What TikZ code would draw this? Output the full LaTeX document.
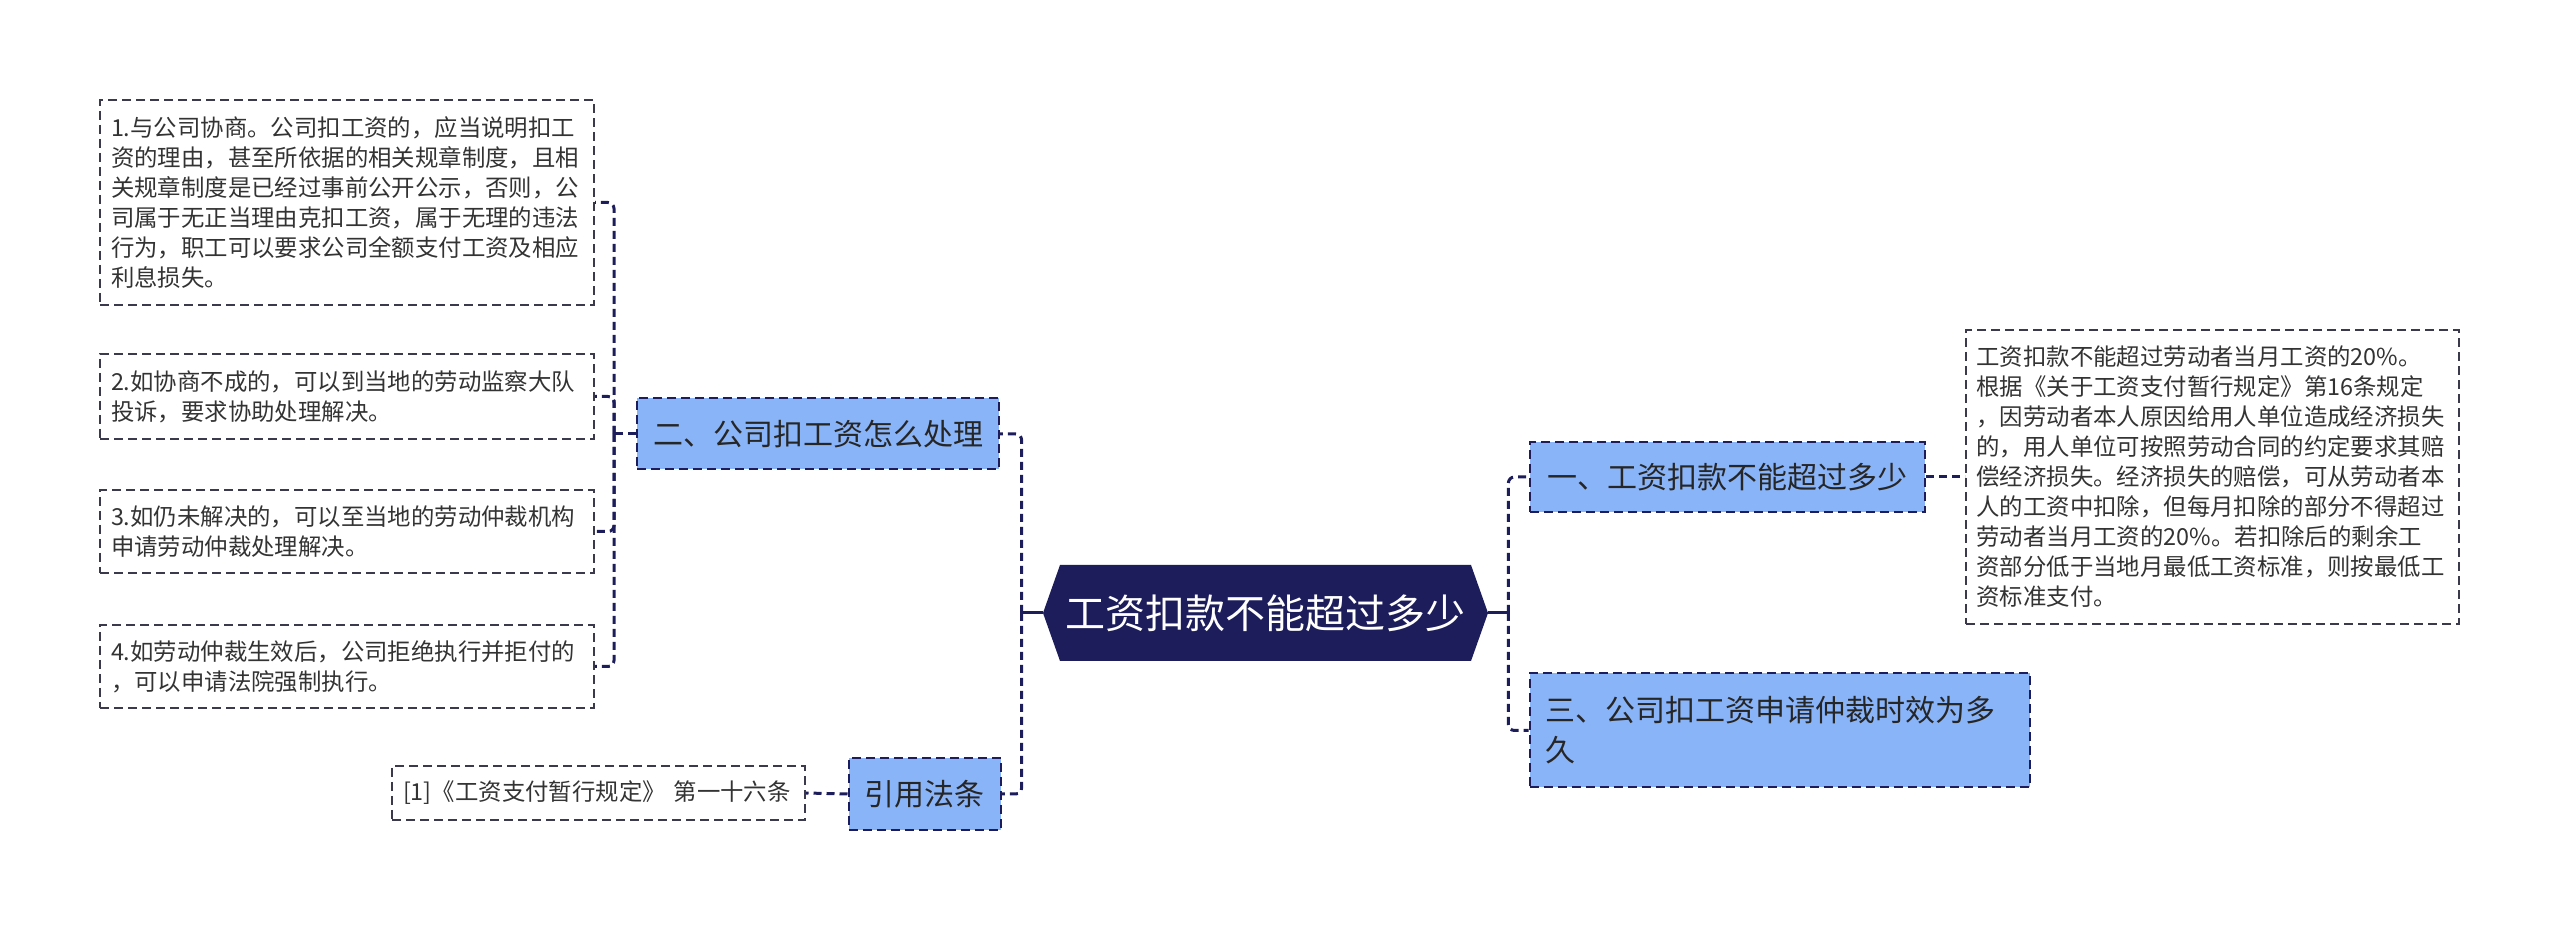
\documentclass[tikz,border=0pt]{standalone}
\usepackage{fontspec}
\setmainfont{Noto Sans CJK SC}
\definecolor{navy}{HTML}{1D1D5C}
\definecolor{branchblue}{HTML}{8AB4F8}
\definecolor{boxline}{HTML}{3A3A4C}
\definecolor{txt}{HTML}{333333}
\begin{document}
\begin{tikzpicture}[x=0.5pt,y=-0.5pt,
  leaf/.style={draw=boxline, line width=1pt, dash pattern=on 4.5pt off 2.5pt, text=txt,
    font=\fontsize{11.7pt}{15pt}\selectfont, align=left, inner ysep=0pt},
  branch/.style={fill=branchblue, draw=navy, line width=1pt, dash pattern=on 4.5pt off 2.5pt,
    text=black!85, font=\fontsize{15pt}{20pt}\selectfont, inner sep=0pt},
  central/.style={text=white, font=\fontsize{20pt}{24pt}\selectfont, inner sep=0pt,
    minimum width=222.5pt, minimum height=48pt},
  conn/.style={draw=navy, line width=1.5pt, dash pattern=on 4pt off 2.5pt, rounded corners=3pt},
  stub/.style={draw=navy, line width=1.5pt}
]
\useasboundingbox (0,0) rectangle (2560,929);

% central hexagon
\fill[navy] (1043,613) -- (1060,565) -- (1471,565) -- (1488,613) -- (1471,661) -- (1060,661) -- cycle;
\node[central] (c) at (1265.5,613) {工资扣款不能超过多少};

% branches
\node[branch, minimum width=181pt, minimum height=35.5pt] (b2) at (818,434) {二、公司扣工资怎么处理};
\node[branch, minimum width=76pt, minimum height=36pt] (yin) at (924.5,794) {引用法条};
\node[branch, minimum width=197.5pt, minimum height=35pt] (r1) at (1727.5,477) {一、工资扣款不能超过多少};
\node[branch, text width=234pt, inner xsep=8pt, minimum height=57pt, align=left] (r3) at (1779.5,730.5) {三、公司扣工资申请仲裁时效为多\\久};

% leaves left
\node[leaf, text width=236pt, inner xsep=5.5pt, minimum height=102.5pt] (l1) at (347,202.5)
  {1.与公司协商。公司扣工资的，应当说明扣工\\资的理由，甚至所依据的相关规章制度，且相\\关规章制度是已经过事前公开公示，否则，公\\司属于无正当理由克扣工资，属于无理的违法\\行为，职工可以要求公司全额支付工资及相应\\利息损失。};
\node[leaf, text width=236pt, inner xsep=5.5pt, minimum height=42.5pt] (l2) at (347,396.5)
  {2.如协商不成的，可以到当地的劳动监察大队\\投诉，要求协助处理解决。};
\node[leaf, text width=236pt, inner xsep=5.5pt, minimum height=41.5pt] (l3) at (347,531.5)
  {3.如仍未解决的，可以至当地的劳动仲裁机构\\申请劳动仲裁处理解决。};
\node[leaf, text width=236pt, inner xsep=5.5pt, minimum height=41.5pt] (l4) at (347,666.5)
  {4.如劳动仲裁生效后，公司拒绝执行并拒付的\\，可以申请法院强制执行。};
\node[leaf, text width=195.5pt, inner xsep=5.5pt, minimum height=27pt] (cite) at (598.5,793)
  {[1]《工资支付暂行规定》 第一十六条};

% detail right
\node[leaf, text width=236pt, inner xsep=5.25pt, minimum height=147pt] (d) at (2212.5,477)
  {工资扣款不能超过劳动者当月工资的20\%。\\根据《关于工资支付暂行规定》第16条规定\\，因劳动者本人原因给用人单位造成经济损失\\的，用人单位可按照劳动合同的约定要求其赔\\偿经济损失。经济损失的赔偿，可从劳动者本\\人的工资中扣除，但每月扣除的部分不得超过\\劳动者当月工资的20\%。若扣除后的剩余工\\资部分低于当地月最低工资标准，则按最低工\\资标准支付。};

% connectors: centre to branches
\draw[stub] (c.west) -- ++(-21,0) coordinate (lsp);
\draw[conn] (lsp) |- (b2.east);
\draw[conn] (lsp) |- (yin.east);
\draw[stub] (c.east) -- ++(20,0) coordinate (rsp);
\draw[conn] (rsp) |- (r1.west);
\draw[conn] (rsp) |- (r3.west);

% branch to leaves
\draw[conn] (b2.west) -- ++(-22,0) coordinate (bsp);
\draw[conn] (bsp) |- (l1.east);
\draw[conn] (bsp) |- (l2.east);
\draw[conn] (bsp) |- (l3.east);
\draw[conn] (bsp) |- (l4.east);
\draw[conn] (yin.west) -- (cite.east);
\draw[conn] (r1.east) -- (d.west);
\end{tikzpicture}
\end{document}
